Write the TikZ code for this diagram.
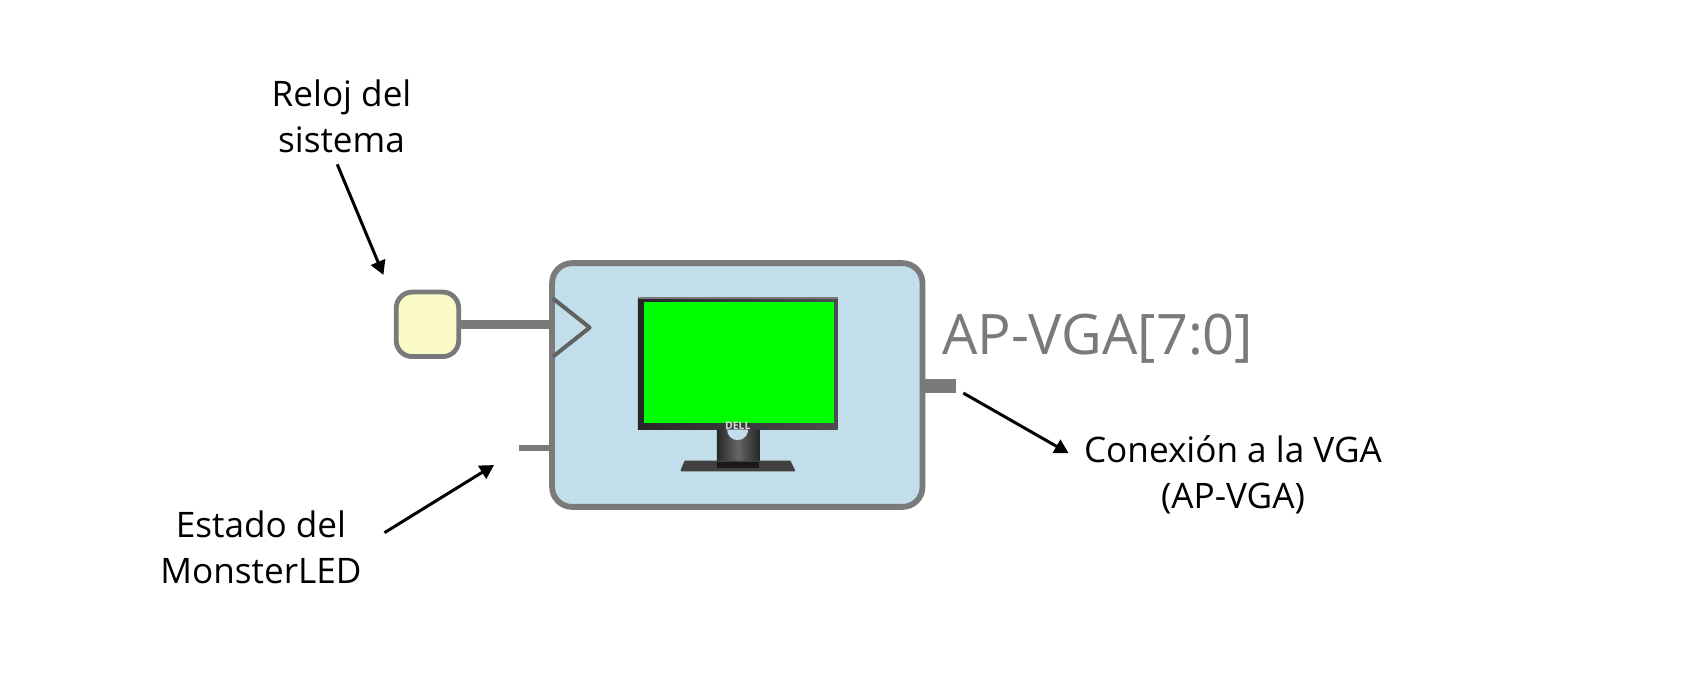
\documentclass[tikz,border=0pt]{standalone}
\usepackage{fontspec}
\setmainfont{Open Sans}
\usetikzlibrary{arrows.meta}
\definecolor{gr}{HTML}{7A7A7A}
\definecolor{lb}{HTML}{C1DEEA}
\definecolor{ly}{HTML}{FBFBC8}
\definecolor{scr}{RGB}{0,255,0}
\tikzset{x=0.01074cm,y=-0.01074cm,
 lab/.style={font=\fontsize{10pt}{13.1pt}\selectfont,align=center,text=black,inner sep=0pt},
 ann/.style={draw=black,line width=0.03cm,-{Triangle[length=0.14cm,width=0.15cm]}},
 blockbox/.style={draw=gr,fill=lb,line width=0.058cm,rounded corners=0.2cm,minimum width=3.705cm,minimum height=2.438cm,inner sep=0pt},
 clockbox/.style={draw=gr,fill=ly,line width=0.048cm,rounded corners=0.16cm,minimum width=0.625cm,minimum height=0.645cm,inner sep=0pt},
 wire/.style={draw=gr,line width=0.065cm},
 clkwire/.style={draw=gr,line width=0.085cm},
 thickwire/.style={draw=gr,line width=0.14cm}}
\begin{document}
\begin{tikzpicture}
\useasboundingbox (0,0) rectangle (1568,644.3);
\fill[white] (0,0) rectangle (1568,644.3);
\coordinate (clkin) at (514,302);
\coordinate (st) at (514,417);
\coordinate (stfree) at (483,417);
\coordinate (vga) at (859,359);
\coordinate (vgafree) at (890,359);
\node[clockbox] (clk) at (398,302) {};
\draw[clkwire] (clk.east |- clkin) -- (clkin);
\draw[wire] (stfree) -- (st);
\draw[thickwire] (vga) -- (vgafree);
\node[blockbox] (block) at (686.5,358.5) {};
% clock triangle
\draw[draw=black!62,line width=0.04cm,line join=round] (515,278) -- (549,305) -- (515,332);
% monitor
\shade[left color=black!85,right color=black!70] (594,277) rectangle (780,400);
\fill[gr] (594,277) rectangle (780,278.5);
\fill[scr] (599.5,281) rectangle (777,393.5);
\shade[left color=black!85,right color=black!85,middle color=black!60] (667.5,400) rectangle (707,433);
\fill[lb] (677,400) arc[start angle=180,end angle=0,radius=9.8] -- cycle;
\fill[black!75] (637.5,429) -- (736,429) -- (740,437) -- (740,439) -- (634,439) -- (634,437) -- cycle;
\fill[black!90] (667.5,430) rectangle (707,436);
\node[text=black!15,inner sep=0pt,font=\fontsize{3pt}{3pt}\selectfont\bfseries] (dell) at (687,396) {DELL};
% labels
\node[lab] (reloj) at (318,108) {Reloj del\\sistema};
\node[lab] (estado) at (243,510) {Estado del\\MonsterLED};
\node[lab] (conex) at (1148,442) {Conexión a la VGA\\(AP-VGA)};
\node[inner sep=0pt,text=gr,font=\fontsize{15.9pt}{18pt}\selectfont] (ap) at (1022,315) {AP-VGA[7:0]};
\coordinate (a1) at (357,256);
\coordinate (a2) at (460,433);
\coordinate (a3) at (995,422);
\draw[ann] (314,153) -- (a1);
\draw[ann] (358,496) -- (a2);
\draw[ann] (897,366) -- (a3);
\end{tikzpicture}
\end{document}
